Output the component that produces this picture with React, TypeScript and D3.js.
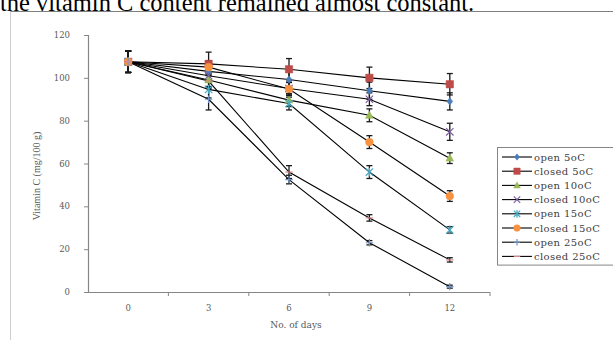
import React from "react";
import * as d3 from "d3";

const days = ["0", "3", "6", "9", "12"];
const yTicks = [0, 20, 40, 60, 80, 100, 120];

const seriesNames = ["open 5oC", "closed 5oC", "open 10oC", "closed 10oC", "open 15oC", "closed 15oC", "open 25oC", "closed 25oC"];
const open5 = [107.5, 103, 99.2, 94, 89];
const closed5 = [107.5, 106.5, 104, 100, 97];
const open10 = [107.5, 99, 89.6, 82.5, 62.5];
const closed10 = [107.5, 101, 95, 90, 74.8];
const open15 = [107.5, 94.6, 88, 56, 29];
const closed15 = [107.5, 105, 94.8, 70, 44.8];
const open25 = [107.5, 90, 52.5, 23, 2.5];
const closed25 = [107.5, 98.5, 56, 34.6, 15];

const err5o = [5, 4, 4, 4, 4];
const err5c = [5, 5.5, 5, 5, 5];
const err10o = [5, 3, 3, 3, 2.5];
const err10c = [5, 3, 3, 3, 4];
const err15o = [5, 4, 3, 3, 1.5];
const err15c = [5, 3, 3, 3, 2.5];
const err25o = [5, 5, 2, 1, 0.7];
const err25c = [5, 3, 3, 1.5, 1];

const seriesValues = [open5, closed5, open10, closed10, open15, closed15, open25, closed25];
const seriesErrors = [err5o, err5c, err10o, err10c, err15o, err15c, err25o, err25c];
const seriesColors = ["#4a7ebb", "#be4b48", "#98b954", "#7d60a0", "#46aac5", "#f69240", "#6f93c9", "#d98a88"];
const seriesMarkers = ["diamond", "square", "triangle", "x", "asterisk", "circle", "plus", "dash"];

function markerPath(kind: string, size: number): { d: string; fill: boolean } {
  const s = size;
  switch (kind) {
    case "diamond":
      return { d: `M0,${-s}L${s * 0.8},0L0,${s}L${-s * 0.8},0Z`, fill: true };
    case "square":
      return { d: `M${-s},${-s}H${s}V${s}H${-s}Z`, fill: true };
    case "triangle":
      return { d: `M0,${-s * 1.1}L${s * 1.05},${s * 0.8}L${-s * 1.05},${s * 0.8}Z`, fill: true };
    case "circle":
      return { d: d3.symbol(d3.symbolCircle, Math.PI * s * s * 1.1)() as string, fill: true };
    case "x":
      return { d: `M${-s},${-s}L${s},${s}M${-s},${s}L${s},${-s}`, fill: false };
    case "asterisk":
      return { d: `M${-s},${-s}L${s},${s}M${-s},${s}L${s},${-s}M0,${-s * 1.2}V${s * 1.2}`, fill: false };
    case "plus":
      return { d: `M${-s},0H${s}M0,${-s}V${s}`, fill: false };
    case "dash":
      return { d: `M${-s},0H${s}`, fill: false };
  }
  return { d: "", fill: true };
}

export default function App() {
  const W = 613, H = 340;
  const left = 88, right = 490, top = 35, bottom = 292;
  const x = d3.scaleBand<string>().domain(days).range([left, right]).padding(0);
  const y = d3.scaleLinear().domain([0, 120]).range([bottom, top]);
  const cx = (d: string) => (x(d) as number) + x.bandwidth() / 2;
  const line = d3.line<number>().x((_, i) => cx(days[i])).y((v) => y(v));

  const tickFont = "'DejaVu Serif', serif";
  const legX = 497, legTop = 147, legStep = 14.2;

  return (
    <svg width={W} height={H} style={{ position: "absolute", left: 0, top: 0, background: "#fff" }}>
      <text x={0} y={11} fontFamily="'Liberation Serif', 'Times New Roman', serif" fontSize={24.5} fill="#000">
        the vitamin C content remained almost constant.
      </text>
      <rect x={0} y={13} width={W} height={H} fill="#fff" />
      <line x1={10.5} y1={11.5} x2={W} y2={11.5} stroke="#7f7f7f" strokeWidth={1} />
      <line x1={10.5} y1={11.5} x2={10.5} y2={H} stroke="#9a9a9a" strokeWidth={1} strokeDasharray="1,1" />

      {/* axes */}
      <line x1={left + 0.5} y1={top} x2={left + 0.5} y2={bottom} stroke="#868686" strokeWidth={1.2} />
      <line x1={left} y1={bottom + 0.5} x2={right} y2={bottom + 0.5} stroke="#868686" strokeWidth={1.2} />
      {yTicks.map((t) => (
        <g key={"y" + t}>
          <line x1={left - 4} x2={left} y1={y(t) + 0.5} y2={y(t) + 0.5} stroke="#868686" />
          <text x={70} y={y(t) + 3} textAnchor="end" fontFamily={tickFont} fontSize={8.5} fill="#595959">{t}</text>
        </g>
      ))}
      {days.map((d) => (
        <g key={"x" + d}>
          <line x1={(x(d) as number) + x.bandwidth()} x2={(x(d) as number) + x.bandwidth()} y1={bottom} y2={bottom + 4} stroke="#868686" />
          <text x={cx(d)} y={311} textAnchor="middle" fontFamily={tickFont} fontSize={8.5} fill="#595959">{d}</text>
        </g>
      ))}
      <text x={296} y={328} textAnchor="middle" fontFamily={tickFont} fontSize={9} fill="#595959">No. of days</text>
      <text transform={`translate(40,176) rotate(-90)`} textAnchor="middle" fontFamily="'Liberation Serif', serif" fontSize={10} fill="#595959">Vitamin C (mg/100 g)</text>

      {/* lines */}
      {seriesValues.map((vals, si) => (
        <path key={"l" + si} d={line(vals) as string} fill="none" stroke="#000" strokeWidth={1.1} />
      ))}
      {/* error bars */}
      {seriesValues.map((vals, si) =>
        vals.map((v, i) => {
          const e = seriesErrors[si][i];
          const px = cx(days[i]);
          return (
            <g key={"e" + si + "-" + i} stroke="#1a1a1a" strokeWidth={1.3}>
              <line x1={px} x2={px} y1={y(v + e)} y2={y(v - e)} />
              <line x1={px - 3} x2={px + 3} y1={y(v + e)} y2={y(v + e)} />
              <line x1={px - 3} x2={px + 3} y1={y(v - e)} y2={y(v - e)} />
            </g>
          );
        })
      )}
      {/* markers */}
      {seriesValues.map((vals, si) =>
        vals.map((v, i) => {
          const m = markerPath(seriesMarkers[si], 3.7);
          return (
            <path key={"m" + si + "-" + i} d={m.d} transform={`translate(${cx(days[i])},${y(v)})`}
              fill={m.fill ? seriesColors[si] : "none"} stroke={seriesColors[si]} strokeWidth={m.fill ? 0.5 : 1.2} />
          );
        })
      )}

      {/* legend */}
      <rect x={legX + 0.5} y={legTop + 0.5} width={W - legX + 5} height={legStep * 8 + 4} fill="#fff" stroke="#868686" />
      {seriesNames.map((n, si) => {
        const ly = legTop + 10 + si * legStep;
        const m = markerPath(seriesMarkers[si], 3.2);
        return (
          <g key={"lg" + si}>
            <line x1={legX + 5} x2={legX + 35} y1={ly} y2={ly} stroke="#000" strokeWidth={1.1} />
            <path d={m.d} transform={`translate(${legX + 20},${ly})`} fill={m.fill ? seriesColors[si] : "none"}
              stroke={seriesColors[si]} strokeWidth={m.fill ? 0.5 : 1.2} />
            <text x={legX + 37} y={ly + 3.5} fontFamily={tickFont} fontSize={10} letterSpacing={0.4} fill="#404040">{n}</text>
          </g>
        );
      })}
    </svg>
  );
}
